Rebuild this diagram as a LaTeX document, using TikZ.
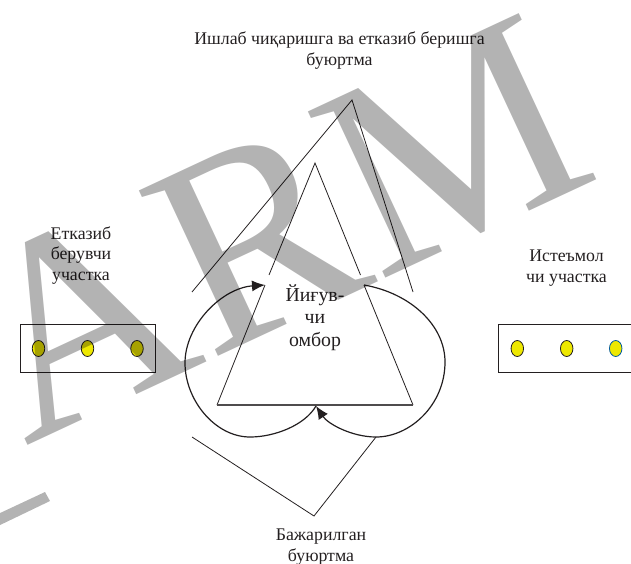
\documentclass[tikz,border=0pt]{standalone}
\usepackage{fontspec}
\setmainfont{Liberation Serif}
\usetikzlibrary{arrows.meta,shapes.geometric}
\definecolor{wm}{RGB}{179,179,179}
\definecolor{txt}{RGB}{35,31,32}
\definecolor{yel}{RGB}{238,232,0}
\definecolor{dotblue}{RGB}{0,90,160}
\tikzset{
  x=1pt,y=-1pt,
  thin line/.style={draw=txt,line width=0.8pt},
  curve/.style={draw=txt,line width=1.2pt},
  curvetip/.style={curve,-{Latex[length=13pt,width=11pt]}},
  lbl/.style={text=txt,font=\fontsize{17.8}{21}\selectfont,align=center,inner sep=0pt},
  box/.style={draw=txt,line width=0.9pt,fill=none,inner sep=0pt},
  dot/.style={draw=txt,fill=yel,line width=0.8pt,ellipse,minimum width=12.5pt,minimum height=16pt,inner sep=0pt},
}
\begin{document}
\begin{tikzpicture}
\useasboundingbox (0,0) rectangle (631,564);
% boxes and dots
\node[box,minimum width=135pt,minimum height=47.5pt] (sup) at (87.5,348.5) {};
\draw[box] (640,324.7) -- (498.7,324.7) -- (498.7,372.3) -- (640,372.3);
\node[dot] (s1) at (38.5,348.5) {};
\node[dot] (s2) at (87.5,348.5) {};
\node[dot] (s3) at (137,348.5) {};
\node[dot] (c1) at (517.3,348.5) {};
\node[dot] (c2) at (566.7,348.5) {};
\node[dot,draw=dotblue] (c3) at (615.7,348.5) {};
% triangle with gaps where the arcs meet it
\coordinate (ta) at (315,163);
\coordinate (tb) at (217,405);
\coordinate (tc) at (413,405);
\coordinate (tl1) at (269,275);
\coordinate (tl2) at (265,285);
\coordinate (tr1) at (360.5,275);
\coordinate (tr2) at (364,285);
\draw[thin line] (tl1) -- (ta) -- (tr1);
\draw[thin line] (tl2) -- (tb);
\draw[thin line] (tr2) -- (tc);
\draw[draw=txt!80!white,line width=1.2pt] (tb) -- (tc);
% bracket lines
\coordinate (b1) at (192,292);
\coordinate (b2) at (352,100);
\coordinate (b3) at (413,292);
\draw[thin line] (b1) -- (b2) -- (b3);
\coordinate (d1) at (192,437);
\coordinate (d2) at (314,516);
\coordinate (d3) at (376,437);
\draw[thin line] (d1) -- (d2) -- (d3);
% arcs
\coordinate (tipb) at (316,406);
\draw[curvetip] (tr2) .. controls (410,293) and (445,325) .. (445,362) .. controls (445,405) and (410,437) .. (376,437) .. controls (352,437) and (328,424) .. (tipb);
\draw[curvetip] (tipb) .. controls (305,425) and (275,437) .. (250,437) .. controls (215,437) and (185,400) .. (185,363) .. controls (185,325) and (222,288) .. (tl2);
% labels
\node[lbl] (top) at (339.5,50.5) {Ишлаб чиқаришга ва етказиб беришга\\буюртма};
\node[lbl,font=\fontsize{17.8}{20.5}\selectfont] (left) at (81,255.5) {Етказиб\\берувчи\\участка};
\node[lbl] (right) at (566.5,268) {Истеъмол\\чи участка};
\node[lbl,font=\fontsize{19.8}{22.5}\selectfont] (store) at (315,317.5) {Йиғув-\\чи\\омбор};
\node[lbl] (done) at (321,547) {Бажарилган\\буюртма};
% watermark
\begin{scope}[blend mode=multiply]
\node[text=wm,font=\fontsize{280}{280}\selectfont,rotate=25,inner sep=0pt] (wmark) at (276,227.6) {ARM};
\fill[wm] (-2,514) -- (45,492) -- (50,501) -- (-2,526) -- cycle;
\end{scope}
\end{tikzpicture}
\end{document}
